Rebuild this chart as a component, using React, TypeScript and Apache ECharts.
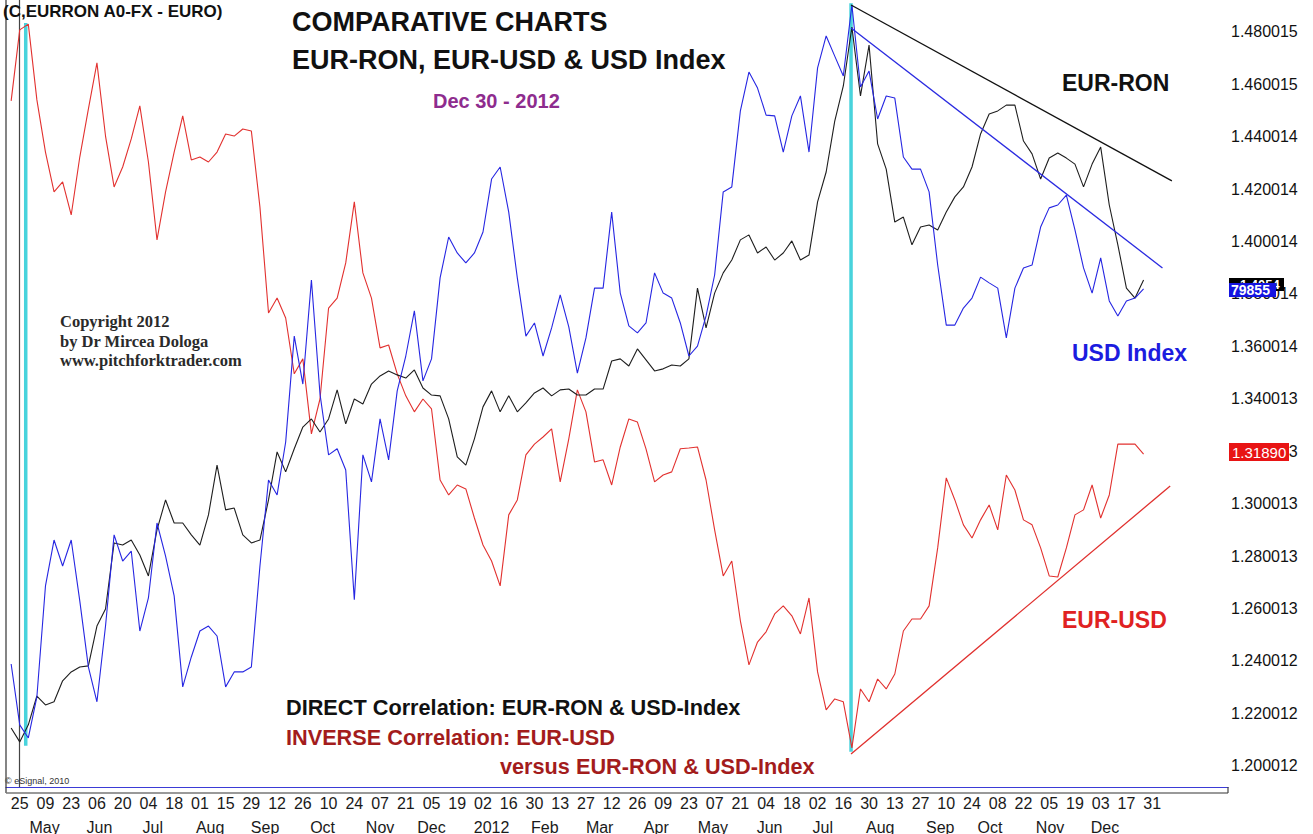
import React, { useEffect, useRef } from "react";
import * as echarts from "echarts";

// x unit: one third of a date-label step (labels every 3 units, "25 May 2011" = 0)
const T_START = -1;

const dayLabels = ["25","09","23","06","20","04","18","01","15","29","12","26","10","24","07","21","05","19","02","16","30","13","27","12","26","09","23","07","21","04","18","02","16","30","13","27","10","24","08","22","05","19","03","17","31"];
const monthLabels = ["May","Jun","Jul","Aug","Sep","Oct","Nov","Dec","2012","Feb","Mar","Apr","May","Jun","Jul","Aug","Sep","Oct","Nov","Dec"];
const monthPos = [2.9, 9.3, 15.5, 22.2, 28.6, 35.3, 42.0, 48.0, 55.0, 61.2, 67.6, 74.2, 80.8, 87.4, 93.6, 100.3, 107.3, 113.1, 120.1, 126.5];

const yTickValues = [1.2, 1.22, 1.24, 1.26, 1.28, 1.3, 1.32, 1.34, 1.36, 1.38, 1.4, 1.42, 1.44, 1.46, 1.48];
const yTickLabels = ["1.200012","1.220012","1.240012","1.260013","1.280013","1.300013","1.320013","1.340013","1.360014","1.380014","1.400014","1.420014","1.440014","1.460015","1.480015"];

// EUR-USD (red)
const eurUsd = [
  1.4536, 1.4807, 1.4829, 1.4540, 1.4341, 1.4189, 1.4227, 1.4101, 1.4322, 1.4505,
  1.4681, 1.4402, 1.4208, 1.4284, 1.4391, 1.4517, 1.4303, 1.4006, 1.4189, 1.4341,
  1.4479, 1.4311, 1.4322, 1.4303, 1.4341, 1.4410, 1.4402, 1.4429, 1.4421, 1.4131,
  1.3727, 1.3784, 1.3708, 1.3495, 1.3552, 1.3266, 1.3399, 1.3746, 1.3784, 1.3918,
  1.4151, 1.3880, 1.3784, 1.3594, 1.3605, 1.3495, 1.3411, 1.3350, 1.3399, 1.3361,
  1.3090, 1.3033, 1.3071, 1.3056, 1.2945, 1.2842, 1.2781, 1.2686, 1.2957, 1.3014,
  1.3186, 1.3227, 1.3254, 1.3285, 1.3083, 1.3247, 1.3434, 1.3350, 1.3159, 1.3167,
  1.3071, 1.3216, 1.3323, 1.3311, 1.3209, 1.3083, 1.3109, 1.3121, 1.3209, 1.3212,
  1.3216, 1.3090, 1.2900, 1.2724, 1.2781, 1.2553, 1.2385, 1.2472, 1.2511, 1.2579,
  1.2610, 1.2572, 1.2503, 1.2640, 1.2358, 1.2213, 1.2255, 1.2244, 1.2068, 1.2293,
  1.2244, 1.2331, 1.2293, 1.2350, 1.2514, 1.2560, 1.2560, 1.2610, 1.2831, 1.3098,
  1.3014, 1.2919, 1.2869, 1.2938, 1.2995, 1.2900, 1.3109, 1.3052, 1.2938, 1.2919,
  1.2831, 1.2724, 1.2720, 1.2831, 1.2957, 1.2976, 1.3071, 1.2945, 1.3033, 1.3227,
  1.3227, 1.3227, 1.3189,
];

// EUR-RON overlay (black)
const eurRon = [
  1.2144, 1.2091, 1.2156, 1.2266, 1.2232, 1.2244, 1.2324, 1.2358, 1.2377, 1.2381,
  1.2533, 1.2598, 1.2850, 1.2842, 1.2861, 1.2804, 1.2724, 1.2900, 1.3014, 1.2926,
  1.2926, 1.2881, 1.2842, 1.2957, 1.3147, 1.2976, 1.2983, 1.2881, 1.2850, 1.2861,
  1.3014, 1.3197, 1.3121, 1.3209, 1.3292, 1.3323, 1.3273, 1.3323, 1.3434, 1.3304,
  1.3399, 1.3380, 1.3456, 1.3487, 1.3506, 1.3491, 1.3479, 1.3510, 1.3441, 1.3414,
  1.3411, 1.3323, 1.3178, 1.3147, 1.3247, 1.3369, 1.3430, 1.3350, 1.3411, 1.3350,
  1.3384, 1.3422, 1.3441, 1.3411, 1.3434, 1.3437, 1.3414, 1.3414, 1.3437, 1.3437,
  1.3544, 1.3552, 1.3525, 1.3590, 1.3548, 1.3506, 1.3514, 1.3529, 1.3525, 1.3552,
  1.3822, 1.3670, 1.3803, 1.3880, 1.3929, 1.4006, 1.4025, 1.3956, 1.3979, 1.3929,
  1.3956, 1.4002, 1.3929, 1.3948, 1.4151, 1.4265, 1.4459, 1.4593, 1.4818, 1.4555,
  1.4749, 1.4372, 1.4276, 1.4074, 1.4093, 1.3987, 1.4055, 1.4063, 1.4044, 1.4112,
  1.4170, 1.4208, 1.4284, 1.4410, 1.4486, 1.4498, 1.4520, 1.4520, 1.4383, 1.4334,
  1.4238, 1.4318, 1.4337, 1.4318, 1.4295, 1.4208, 1.4295, 1.4360, 1.4139, 1.3987,
  1.3822, 1.3784, 1.3853,
];

// USD Index overlay (blue)
const usdIndex = [
  1.2388, 1.2156, 1.2106, 1.2263, 1.2686, 1.2861, 1.2762, 1.2861, 1.2629, 1.2377,
  1.2244, 1.2533, 1.2881, 1.2781, 1.2819, 1.2514, 1.2640, 1.2926, 1.2800, 1.2648,
  1.2301, 1.2415, 1.2514, 1.2533, 1.2495, 1.2301, 1.2358, 1.2358, 1.2377, 1.2762,
  1.3090, 1.3033, 1.3235, 1.3639, 1.3456, 1.3853, 1.3418, 1.3186, 1.3209, 1.3128,
  1.2633, 1.3186, 1.3083, 1.3323, 1.3167, 1.3430, 1.3563, 1.3735, 1.3468, 1.3552,
  1.3861, 1.4017, 1.3956, 1.3918, 1.3956, 1.4036, 1.4238, 1.4284, 1.4112, 1.3861,
  1.3639, 1.3689, 1.3563, 1.3670, 1.3796, 1.3674, 1.3498, 1.3632, 1.3822, 1.3822,
  1.4112, 1.3803, 1.3678, 1.3651, 1.3689, 1.3880, 1.3803, 1.3784, 1.3689, 1.3563,
  1.3601, 1.3716, 1.3872, 1.4189, 1.4208, 1.4498, 1.4646, 1.4585, 1.4482, 1.4479,
  1.4341, 1.4479, 1.4555, 1.4341, 1.4662, 1.4784, 1.4707, 1.4631, 1.4902, 1.4589,
  1.4650, 1.4467, 1.4555, 1.4547, 1.4322, 1.4276, 1.4276, 1.4189, 1.3910, 1.3681,
  1.3681, 1.3746, 1.3784, 1.3864, 1.3842, 1.3822, 1.3632, 1.3822, 1.3899, 1.3910,
  1.4055, 1.4128, 1.4139, 1.4177, 1.4044, 1.3899, 1.3803, 1.3937, 1.3773, 1.3716,
  1.3773, 1.3784, 1.3819,
];

// hand-drawn trend lines and marker lines (endpoints in data space)
const trendEurRon = [[96.9, 1.4902], [134.3, 1.4231]];
const trendUsdIndex = [[96.9, 1.4814], [133.2, 1.3899]];
const trendEurUsd = [[96.9, 1.2045], [134.1, 1.3067]];
const markerLeft = [[0.7, 1.4833], [0.7, 1.2076]];
const markerRight = [[96.9, 1.4909], [96.9, 1.2053]];

const X_MIN = -1.6;
const X_MAX = 140.84;
const Y_MIN = 1.1919;
const Y_MAX = 1.4921;

const SANS = '"Liberation Sans", Arial, sans-serif';
const SERIF = '"Liberation Serif", "Times New Roman", serif';

function toPairs(vals: number[]) {
  return vals.map((v, i) => [T_START + i, v]);
}

function nearestIndex(arr: number[], v: number) {
  let best = 0;
  for (let i = 1; i < arr.length; i++) {
    if (Math.abs(arr[i] - v) < Math.abs(arr[best] - v)) best = i;
  }
  return best;
}

function txt(text: string, x: number, y: number, font: string, fill: string, z = 100) {
  return {
    type: "text",
    z,
    style: { text, x, y, font, fill, align: "left", verticalAlign: "middle" },
  };
}

export default function App() {
  const ref = useRef<HTMLDivElement>(null);

  useEffect(() => {
    if (!ref.current) return;
    const chart = echarts.init(ref.current, undefined, { renderer: "svg" });
    const lineSeries = (name: string, data: any[], color: string, width: number, z: number) => ({
      name,
      type: "line",
      data,
      showSymbol: false,
      symbol: "none",
      smooth: false,
      silent: true,
      z,
      lineStyle: { color, width },
    });

    chart.setOption({
      animation: false,
      backgroundColor: "#ffffff",
      grid: {
        left: 6,
        right: 85,
        top: 0,
        bottom: 47,
        containLabel: false,
        outerBoundsMode: "none",
      },
      xAxis: [
        {
          type: "value",
          min: X_MIN,
          max: X_MAX,
          position: "bottom",
          axisLine: { show: true, onZero: false, lineStyle: { color: "#3b3bd6", width: 1.2 } },
          axisTick: { show: false },
          splitLine: { show: false },
          axisLabel: {
            customValues: dayLabels.map((_, i) => i * 3),
            formatter: (v: number) => dayLabels[Math.round(v / 3)] ?? "",
            margin: 8,
            color: "#1a1a1a",
            fontFamily: SANS,
            fontSize: 16,
            showMinLabel: true,
            showMaxLabel: true,
          },
        },
        {
          type: "value",
          min: X_MIN,
          max: X_MAX,
          position: "bottom",
          offset: 24,
          axisLine: { show: false },
          axisTick: { show: false },
          splitLine: { show: false },
          axisLabel: {
            customValues: monthPos,
            formatter: (v: number) => monthLabels[nearestIndex(monthPos, v)],
            margin: 8,
            color: "#1a1a1a",
            fontFamily: SANS,
            fontSize: 16,
            showMinLabel: true,
            showMaxLabel: true,
          },
        },
      ],
      yAxis: {
        type: "value",
        position: "right",
        min: Y_MIN,
        max: Y_MAX,
        axisLine: { show: true, lineStyle: { color: "#444", width: 1.2 } },
        axisTick: { show: false },
        splitLine: { show: false },
        axisLabel: {
          customValues: yTickValues,
          formatter: (v: number) => yTickLabels[nearestIndex(yTickValues, v)],
          margin: 3,
          color: "#111",
          fontFamily: SANS,
          fontSize: 16,
        },
      },
      series: [
        lineSeries("markerLeft", markerLeft, "#48d3dc", 3.5, 1),
        lineSeries("markerRight", markerRight, "#48d3dc", 3.5, 1),
        lineSeries("EUR-USD", toPairs(eurUsd), "#e2312f", 1.1, 3),
        lineSeries("EUR-RON", toPairs(eurRon), "#1e1e1e", 1.1, 4),
        lineSeries("USD Index", toPairs(usdIndex), "#2626e2", 1.1, 5),
        lineSeries("trendEurRon", trendEurRon, "#111111", 1.3, 6),
        lineSeries("trendUsdIndex", trendUsdIndex, "#2a2ae0", 1.3, 6),
        lineSeries("trendEurUsd", trendEurUsd, "#e0302e", 1.3, 6),
      ],
      graphic: [
        // frame pieces
        { type: "line", z: 90, shape: { x1: 6, y1: 0, x2: 6, y2: 793 }, style: { stroke: "#333", lineWidth: 1.2 } },
        { type: "line", z: 90, shape: { x1: 6, y1: 793, x2: 1228, y2: 793 }, style: { stroke: "#777", lineWidth: 1.5 } },
        { type: "line", z: 90, shape: { x1: 1228, y1: 787, x2: 1228, y2: 793 }, style: { stroke: "#444", lineWidth: 1.2 } },
        // header texts
        txt("(C,EURRON A0-FX - EURO)", 3, 11, `bold 17px ${SANS}`, "#111"),
        txt("COMPARATIVE CHARTS", 292, 22, `bold 27px ${SANS}`, "#111"),
        txt("EUR-RON, EUR-USD & USD Index", 292, 60, `bold 27px ${SANS}`, "#111"),
        txt("Dec 30 - 2012", 433, 101, `bold 20px ${SANS}`, "#8e2c8e"),
        txt("Copyright 2012", 60, 321, `bold 16.5px ${SERIF}`, "#2a2a2a"),
        txt("by Dr Mircea Dologa", 60, 341, `bold 16.5px ${SERIF}`, "#2a2a2a"),
        txt("www.pitchforktrader.com", 60, 360, `bold 16.5px ${SERIF}`, "#2a2a2a"),
        txt("EUR-RON", 1062, 83, `bold 23px ${SANS}`, "#111"),
        txt("USD Index", 1072, 353, `bold 23px ${SANS}`, "#1c1cdf"),
        txt("EUR-USD", 1062, 620, `bold 23px ${SANS}`, "#e02222"),
        txt("DIRECT Correlation: EUR-RON & USD-Index", 286, 707, `bold 21.7px ${SANS}`, "#111"),
        txt("INVERSE Correlation: EUR-USD", 286, 737, `bold 21.7px ${SANS}`, "#a31c1c"),
        txt("versus EUR-RON & USD-Index", 500, 766, `bold 21.7px ${SANS}`, "#a31c1c"),
        txt("\u00a9 eSignal, 2010", 5, 781, `9px ${SANS}`, "#333"),
        // last-value tags on the price scale
        { type: "rect", z: 100, shape: { x: 1229, y: 278, width: 55, height: 13 }, style: { fill: "#000" } },
        txt("1.4054", 1240, 284, `bold 13px ${SANS}`, "#fff", 100),
        { type: "rect", z: 101, shape: { x: 1229, y: 283, width: 47, height: 14 }, style: { fill: "#1414e0" } },
        txt("79855", 1231, 290, `bold 14px ${SANS}`, "#fff", 102),
        { type: "rect", z: 101, shape: { x: 1229, y: 443, width: 60, height: 18 }, style: { fill: "#e81414" } },
        txt("1.31890", 1232, 452, `15px ${SANS}`, "#fff", 102),
      ],
    });

    return () => {
      chart.dispose();
    };
  }, []);

  return (
    <div
      ref={ref}
      style={{ position: "fixed", left: 0, top: 0, width: 1313, height: 834, background: "#fff" }}
    />
  );
}
